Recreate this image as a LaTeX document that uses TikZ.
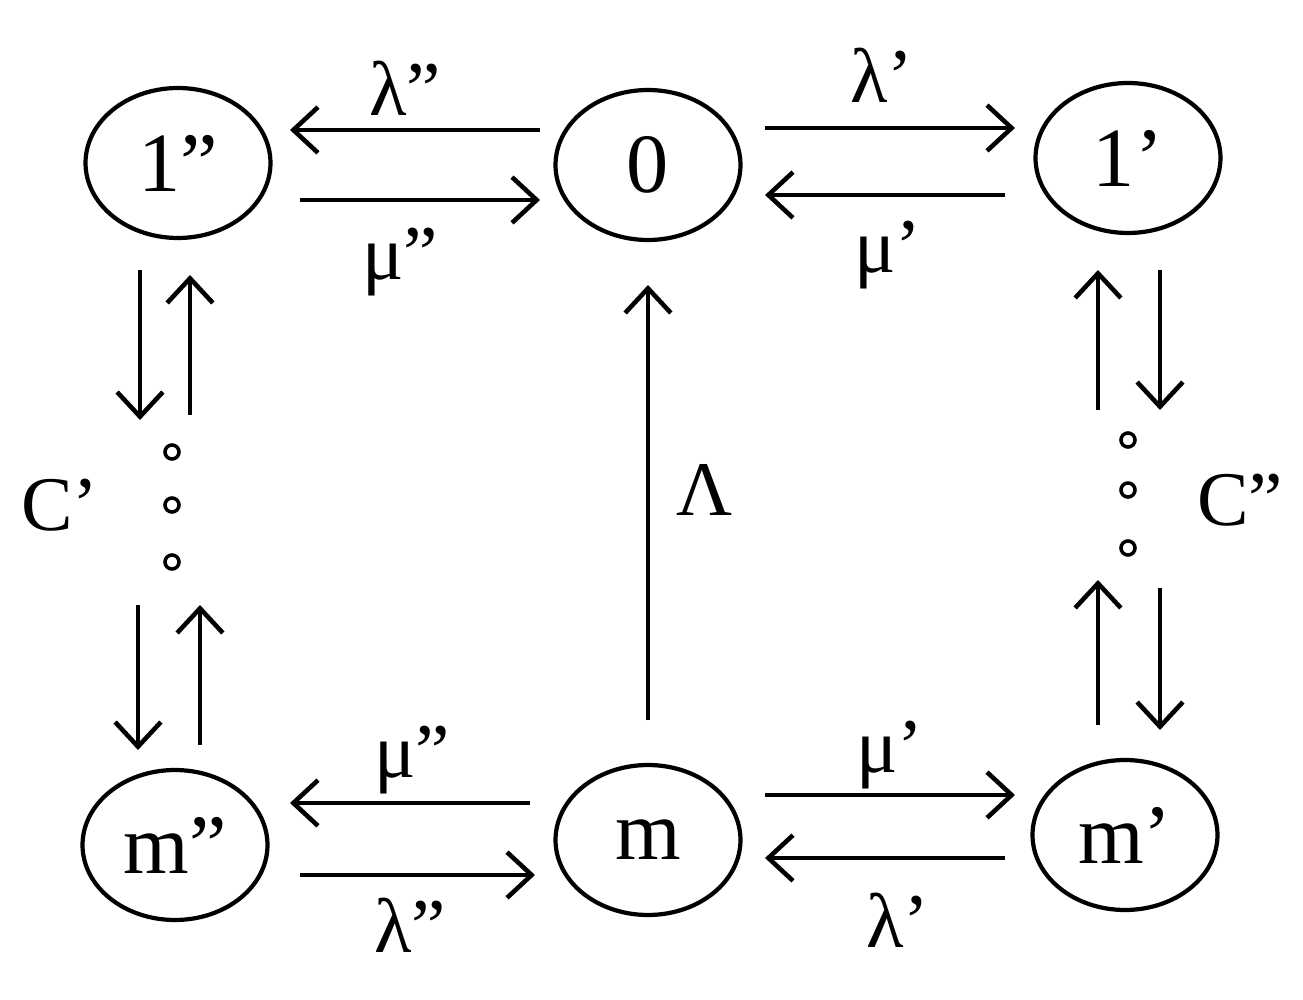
\documentclass[tikz,border=0pt]{standalone}
\usepackage{fontspec}
\setmainfont{Liberation Serif}
\usetikzlibrary{arrows.meta,shapes.geometric}
\newcommand{\dq}{\symbol{"22}}
\newcommand{\sq}{\symbol{"27}}
\begin{document}
\begin{tikzpicture}[x=0.02cm,y=-0.02cm,
  st/.style={draw,ellipse,line width=2.4pt,minimum width=3.7cm,minimum height=3cm,font=\fontsize{48}{50}\selectfont},
  ar/.style={line width=2.6pt,-{Straight Barb[length=14pt,width=26pt,line width=2.6pt]}},
  lb/.style={font=\fontsize{44}{46}\selectfont},
  dt/.style={draw,circle,line width=2pt,inner sep=0pt,minimum size=8pt}]
\useasboundingbox (0,0) rectangle (1303,1000);
\node[st] (n1b) at (178,163) {1\dq};
\node[st] (n0) at (648,165) {0};
\node[st] (n1a) at (1128,158) {1\sq};
\node[st] (nmb) at (175,845) {m\dq};
\node[st] (nm) at (648,840) {m};
\node[st] (nma) at (1125,835) {m\sq};
% top-left
\coordinate (a1) at (540,130); \coordinate (a2) at (290,130);
\coordinate (a3) at (300,200); \coordinate (a4) at (540,200);
\draw[ar] (a1) -- (a2); \draw[ar] (a3) -- (a4);
\node[lb] (l1) at (405,88) {λ\dq};
\node[lb] (l2) at (400,262) {μ\dq};
% top-right
\coordinate (b1) at (765,128); \coordinate (b2) at (1015,128);
\coordinate (b3) at (1005,195); \coordinate (b4) at (765,195);
\draw[ar] (b1) -- (b2); \draw[ar] (b3) -- (b4);
\node[lb] (l3) at (882,75) {λ\sq};
\node[lb] (l4) at (888,255) {μ\sq};
% bottom-left
\coordinate (c1) at (530,803); \coordinate (c2) at (290,803);
\coordinate (c3) at (300,875); \coordinate (c4) at (535,875);
\draw[ar] (c1) -- (c2); \draw[ar] (c3) -- (c4);
\node[lb] (l5) at (412,760) {μ\dq};
\node[lb] (l6) at (410,925) {λ\dq};
% bottom-right
\coordinate (d1) at (765,795); \coordinate (d2) at (1015,795);
\coordinate (d3) at (1005,858); \coordinate (d4) at (765,858);
\draw[ar] (d1) -- (d2); \draw[ar] (d3) -- (d4);
\node[lb] (l7) at (890,755) {μ\sq};
\node[lb] (l8) at (898,920) {λ\sq};
% center
\coordinate (e1) at (648,720); \coordinate (e2) at (648,285);
\draw[ar] (e1) -- (e2);
\node[lb] (l9) at (705,490) {Λ};
% left chain
\coordinate (f1) at (140,270); \coordinate (f2) at (140,420);
\coordinate (f3) at (190,415); \coordinate (f4) at (190,275);
\coordinate (f5) at (138,605); \coordinate (f6) at (138,750);
\coordinate (f7) at (200,745); \coordinate (f8) at (200,605);
\draw[ar] (f1) -- (f2); \draw[ar] (f3) -- (f4);
\draw[ar] (f5) -- (f6); \draw[ar] (f7) -- (f8);
\node[dt] (g1) at (172,452) {}; \node[dt] (g2) at (172,505) {}; \node[dt] (g3) at (172,562) {};
\node[lb] (l10) at (60,505) {C\sq};
% right chain
\coordinate (h1) at (1098,410); \coordinate (h2) at (1098,270);
\coordinate (h3) at (1160,270); \coordinate (h4) at (1160,410);
\coordinate (h5) at (1098,725); \coordinate (h6) at (1098,580);
\coordinate (h7) at (1160,588); \coordinate (h8) at (1160,730);
\draw[ar] (h1) -- (h2); \draw[ar] (h3) -- (h4);
\draw[ar] (h5) -- (h6); \draw[ar] (h7) -- (h8);
\node[dt] (k1) at (1128,440) {}; \node[dt] (k2) at (1128,490) {}; \node[dt] (k3) at (1128,548) {};
\node[lb] (l11) at (1240,500) {C\dq};
\end{tikzpicture}
\end{document}
